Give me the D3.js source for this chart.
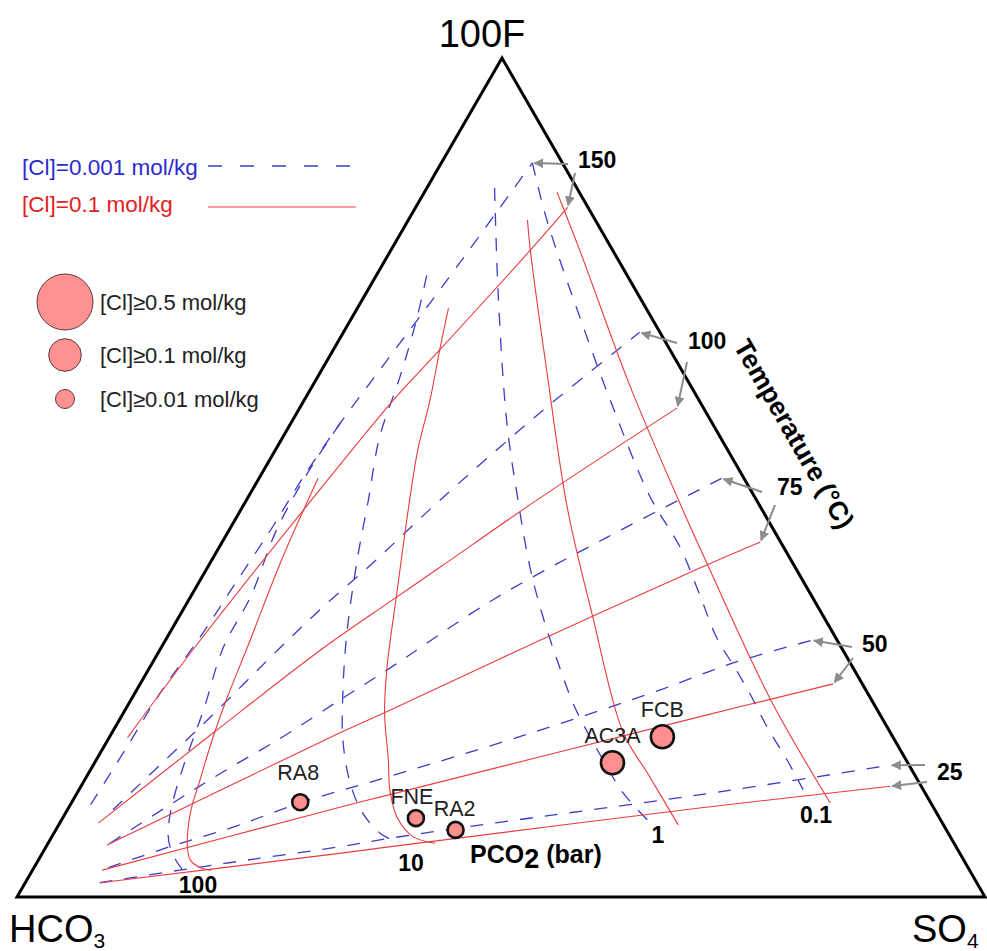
<!DOCTYPE html>
<html>
<head>
<meta charset="utf-8">
<script src="https://cdn.jsdelivr.net/npm/d3@7"></script>
<style>
  body { margin: 0; background: #fff; }
  svg { display: block; font-family: "Liberation Sans", Arial, sans-serif; }
</style>
</head>
<body>
<div id="chart"></div>
<script>
// every point is [SO4 %, 100F %]; HCO3 is what is left over
var tempLabels = ["150", "100", "75", "50", "25"];
var pco2Labels = ["100", "10", "1", "0.1"];

// [Cl]=0.1 mol/kg (red, solid) - isotherms run from the HCO3 side to the right
var redIsotherms = [
  [[1.9,19.0],[3.6,30.6],[6.6,46.7],[9.2,59.2],[11.0,65.2],[14.4,77.1],[15.7,82.2]],
  [[4.0,8.8],[10.5,19.6],[16.8,29.7],[20.9,35.2],[24.0,39.3],[30.0,47.3],[39.0,58.3]],
  [[6.2,6.2],[23.6,19.6],[27.4,22.3],[38.7,30.6],[50.9,39.2],[55.6,42.3]],
  [[7.2,3.2],[28.0,10.7],[32.4,12.2],[59.8,21.5],[71.6,25.4]],
  [[7.7,1.7],[30.7,5.2],[35.6,6.0],[65.2,10.6],[83.6,13.2]]
];
// isobars run from the top down
var redIsobars = [
  [[6.1,49.9],[7.2,40.2],[8.9,29.7],[9.8,23.8],[10.7,19.1],[11.9,14.0],[12.9,10.0],[14.6,6.0],[15.7,4.4],[17.2,3.5],[18.5,3.2]],
  [[9.4,70.2],[11.0,65.2],[13.0,59.2],[14.7,53.3],[17.2,46.4],[21.1,36.2],[24.5,27.4],[27.0,21.9],[30.2,16.3],[32.1,12.8],[34.5,9.5],[37.3,7.2],[40.0,6.4]],
  [[12.3,80.7],[14.4,77.1],[24.0,61.6],[33.6,46.4],[42.6,33.6],[52.8,19.6],[57.7,14.8],[64.0,8.6]],
  [[13.7,84.0],[19.5,77.1],[32.9,60.8],[45.7,46.1],[51.5,39.6],[65.9,23.7],[78.4,11.2]]
];

// [Cl]=0.001 mol/kg (blue, dashed)
var blueIsotherms = [
  [[2.1,11.0],[2.4,17.9],[2.6,24.3],[3.4,31.0],[3.8,37.0],[4.3,44.1],[4.5,50.1],[5.1,56.5],[6.0,62.8],[6.9,68.8],[7.8,75.1],[9.4,87.5]],
  [[4.7,10.4],[7.0,16.0],[9.1,21.1],[12.3,29.7],[14.3,34.6],[16.8,39.8],[20.0,47.3],[25.1,57.7],[30.6,67.3]],
  [[6.4,6.4],[10.3,11.0],[13.8,14.9],[17.9,19.1],[21.6,23.5],[24.7,27.1],[31.4,35.4],[39.5,42.9],[47.8,49.9]],
  [[7.7,3.5],[12.8,6.0],[18.1,8.3],[23.6,11.2],[31.1,14.3],[43.0,19.4],[54.1,24.7],[60.0,27.9],[66.8,30.6]],
  [[7.7,1.7],[15.2,3.2],[21.6,4.4],[30.4,6.0],[35.0,7.0],[45.4,8.9],[64.5,12.2],[82.3,15.7]]
];
var blueIsobars = [
  [[5.1,56.5],[4.7,50.7],[4.9,43.7],[6.2,35.8],[6.4,29.8],[8.1,22.3],[9.4,15.5],[10.6,10.7],[11.8,7.6],[12.8,6.0],[14.4,4.2],[15.9,2.9]],
  [[5.2,74.1],[6.8,68.8],[8.5,62.0],[10.0,54.8],[12.6,47.3],[14.9,40.5],[18.3,31.5],[21.3,24.7],[24.3,18.7],[27.6,13.6],[30.6,10.1],[33.7,7.6],[36.3,6.4]],
  [[7.0,84.5],[13.9,71.5],[22.3,56.5],[27.8,47.7],[33.3,39.3],[37.6,33.4],[41.6,28.3],[46.4,22.5],[52.4,16.3],[56.4,12.4],[60.5,9.2]],
  [[9.4,87.5],[14.3,80.7],[22.8,70.0],[32.3,58.4],[41.5,47.7],[47.6,41.7],[52.5,36.0],[56.8,30.9],[60.5,27.3],[63.7,24.1],[67.3,20.3],[71.4,16.3],[74.8,12.8]]
];

// samples
var sampleNames = ["RA8", "FNE", "RA2", "AC3A", "FCB"];
var sampleSO4 = [23.6, 36.5, 41.3, 53.5, 57.1];
var sampleF = [11.3, 9.4, 8.0, 16.0, 19.1];
var sampleCl = [0.01, 0.01, 0.01, 0.1, 0.1];

var legendCl = [0.5, 0.1, 0.01];

// ---------- layout ----------
var svg = d3.select("#chart").append("svg")
    .attr("width", 987)
    .attr("height", 951);

// ternary projection built from plain linear scales
var yF = d3.scaleLinear().domain([0, 100]).range([897, 58]);
var xS = d3.scaleLinear().domain([0, 100]).range([17, 985]);
var xShift = d3.scaleLinear().domain([0, 100]).range([0, 485]);
function proj(d) { return [xS(d[0]) + xShift(d[1]), yF(d[1])]; }

var line = d3.line()
    .x(function(d) { return proj(d)[0]; })
    .y(function(d) { return proj(d)[1]; })
    .curve(d3.curveCatmullRom.alpha(0.5));

var BLUE = "#3c3cc8", RED = "#ea3c3e", GREY = "#8c8c8c";

svg.append("defs").append("marker")
    .attr("id", "arrow")
    .attr("viewBox", "0 0 10 10")
    .attr("refX", 9).attr("refY", 5)
    .attr("markerWidth", 5).attr("markerHeight", 5)
    .attr("orient", "auto")
  .append("path")
    .attr("d", "M0,0L10,5L0,10Z")
    .attr("fill", GREY);

// blue grid
svg.append("g")
    .attr("fill", "none")
    .attr("stroke", BLUE)
    .attr("stroke-width", 1.3)
    .attr("stroke-dasharray", "13,12")
  .selectAll("path")
  .data(blueIsotherms.concat(blueIsobars))
  .join("path")
    .attr("d", line);

// red grid
svg.append("g")
    .attr("fill", "none")
    .attr("stroke", RED)
    .attr("stroke-width", 1.1)
  .selectAll("path")
  .data(redIsotherms.concat(redIsobars))
  .join("path")
    .attr("d", line);

// triangle
var corners = [[0, 100], [0, 0], [100, 0]];
svg.append("path")
    .attr("d", "M" + corners.map(proj).join("L") + "Z")
    .attr("fill", "none")
    .attr("stroke", "#000")
    .attr("stroke-width", 3);

// vertex labels
svg.append("text").attr("x", 482).attr("y", 47)
    .attr("text-anchor", "middle").attr("font-size", 38).text("100F");
var hco = svg.append("text").attr("x", 9).attr("y", 942).attr("font-size", 38);
hco.append("tspan").text("HCO");
hco.append("tspan").attr("font-size", 21).attr("dy", 6).text("3");
var so = svg.append("text").attr("x", 912).attr("y", 942).attr("font-size", 38);
so.append("tspan").text("SO");
so.append("tspan").attr("font-size", 21).attr("dy", 6).text("4");

// temperature labels with arrows to the end of each isotherm
var tempLabelXY = [[578, 168], [688, 349], [777, 495], [862, 652], [937, 780]];
var tempArrowFrom = [
  [[568, 164], [575, 173]],
  [[677, 343], [687, 362]],
  [[762, 492], [775, 505]],
  [[852, 647], [853, 658]],
  [[925, 765], [927, 782]]
];
svg.selectAll("text.temp")
  .data(tempLabels)
  .join("text")
    .attr("class", "temp")
    .attr("x", function(d, i) { return tempLabelXY[i][0]; })
    .attr("y", function(d, i) { return tempLabelXY[i][1]; })
    .attr("font-size", 23)
    .attr("font-weight", "bold")
    .text(function(d) { return d; });

function pullBack(from, to, k) {
  var dx = to[0] - from[0], dy = to[1] - from[1], L = Math.sqrt(dx * dx + dy * dy);
  return [to[0] - dx / L * k, to[1] - dy / L * k];
}
var arrows = [];
tempLabels.forEach(function(t, i) {
  var bEnd = proj(blueIsotherms[i][blueIsotherms[i].length - 1]);
  var rEnd = proj(redIsotherms[i][redIsotherms[i].length - 1]);
  arrows.push([tempArrowFrom[i][0], pullBack(tempArrowFrom[i][0], bEnd, 2)]);
  arrows.push([tempArrowFrom[i][1], pullBack(tempArrowFrom[i][1], rEnd, 2)]);
});
svg.selectAll("line.arr")
  .data(arrows)
  .join("line")
    .attr("class", "arr")
    .attr("x1", function(d) { return d[0][0]; })
    .attr("y1", function(d) { return d[0][1]; })
    .attr("x2", function(d) { return d[1][0]; })
    .attr("y2", function(d) { return d[1][1]; })
    .attr("stroke", GREY)
    .attr("stroke-width", 2)
    .attr("marker-end", "url(#arrow)");

svg.append("text")
    .attr("transform", "translate(794,434) rotate(60.1)")
    .attr("text-anchor", "middle")
    .attr("dominant-baseline", "central")
    .attr("font-size", 26.5)
    .attr("font-weight", "bold")
    .text("Temperature (\u00B0C)");

// PCO2 labels
var pco2LabelXY = [[198, 893], [411, 871], [658, 843], [816, 823]];
svg.selectAll("text.pco2")
  .data(pco2Labels)
  .join("text")
    .attr("class", "pco2")
    .attr("x", function(d, i) { return pco2LabelXY[i][0]; })
    .attr("y", function(d, i) { return pco2LabelXY[i][1]; })
    .attr("text-anchor", "middle")
    .attr("font-size", 23)
    .attr("font-weight", "bold")
    .text(function(d) { return d; });

var pt = svg.append("text").attr("x", 470).attr("y", 863)
    .attr("font-size", 25).attr("font-weight", "bold");
pt.append("tspan").text("PCO");
pt.append("tspan").attr("dy", 5).attr("font-size", 27).text("2");
pt.append("tspan").attr("dy", -5).text(" (bar)");

// samples
var sampleR = d3.scaleOrdinal().domain([0.01, 0.1, 0.5]).range([8, 11.5, 15]);
var labelNudge = { "RA8": [-2, -14], "FNE": [-4, -6], "RA2": [-1, -6], "AC3A": [0, -8], "FCB": [0, -8] };
var samples = sampleNames.map(function(n, i) {
  return { name: n, p: proj([sampleSO4[i], sampleF[i]]), cl: sampleCl[i] };
});
svg.selectAll("circle.sample")
  .data(samples)
  .join("circle")
    .attr("class", "sample")
    .attr("cx", function(d) { return d.p[0]; })
    .attr("cy", function(d) { return d.p[1]; })
    .attr("r", function(d) { return sampleR(d.cl); })
    .attr("fill", "#ff8e8e")
    .attr("stroke", "#111")
    .attr("stroke-width", 2.6);
svg.selectAll("text.sample")
  .data(samples)
  .join("text")
    .attr("class", "sample")
    .attr("x", function(d) { return d.p[0] + labelNudge[d.name][0]; })
    .attr("y", function(d) { return d.p[1] - sampleR(d.cl) + labelNudge[d.name][1]; })
    .attr("text-anchor", "middle")
    .attr("font-size", 21.5)
    .attr("fill", "#222")
    .text(function(d) { return d.name; });

// legend: line styles
svg.append("text").attr("x", 22).attr("y", 175).attr("font-size", 22.5)
    .attr("fill", "#2b2bd0").text("[Cl]=0.001 mol/kg");
svg.append("line").attr("x1", 208).attr("x2", 356).attr("y1", 166).attr("y2", 166)
    .attr("stroke", BLUE).attr("stroke-width", 1.3).attr("stroke-dasharray", "14,18");
svg.append("text").attr("x", 22).attr("y", 212).attr("font-size", 22.5)
    .attr("fill", "#e2211f").text("[Cl]=0.1 mol/kg");
svg.append("line").attr("x1", 208).attr("x2", 356).attr("y1", 207).attr("y2", 207)
    .attr("stroke", RED).attr("stroke-width", 1.1);

// legend: circle sizes
var legendR = d3.scaleOrdinal().domain(legendCl).range([28, 16.3, 9.5]);
var legendY = [302, 355, 399];
var lg = svg.selectAll("g.leg")
  .data(legendCl)
  .join("g")
    .attr("class", "leg")
    .attr("transform", function(d, i) { return "translate(65," + legendY[i] + ")"; });
lg.append("circle")
    .attr("r", function(d) { return legendR(d); })
    .attr("fill", "#ff9191")
    .attr("stroke", "#5a3a3a")
    .attr("stroke-width", 1);
lg.append("text")
    .attr("x", 35)
    .attr("y", 8)
    .attr("font-size", 22)
    .attr("fill", "#222")
    .text(function(d) { return "[Cl]\u2265" + d + " mol/kg"; });
</script>
</body>
</html>
